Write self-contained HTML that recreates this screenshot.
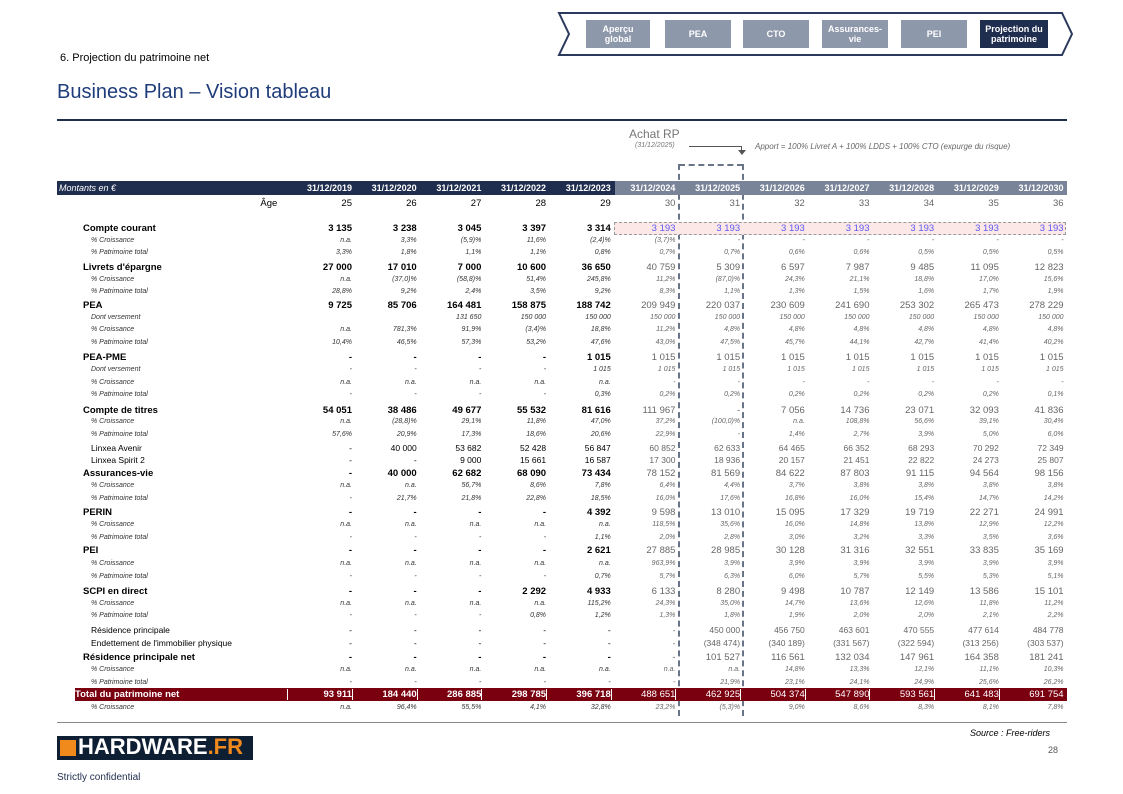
<!DOCTYPE html>
<html><head><meta charset="utf-8"><style>
*{margin:0;padding:0;box-sizing:border-box}
body{width:1123px;height:794px;background:#fff;position:relative;overflow:hidden;font-family:"Liberation Sans",Arial,sans-serif;color:#000}
.a{position:absolute}
.nav{position:absolute;top:20px;height:28px;background:#8e98ab;color:#fff;font-size:9px;font-weight:bold;text-align:center;display:flex;align-items:center;justify-content:center;line-height:10px}
.r{position:absolute;left:57px;width:1010px;height:12px;display:flex;align-items:center;white-space:nowrap}
.r span{display:block}
.r span:first-child{width:230.3px}
.r span+span{width:64.7px;text-align:right}
.r span:nth-child(n+7){color:#666}
.b{font-size:9.5px;font-weight:bold}
.b span:first-child{padding-left:26px}
.b span:nth-child(n+7){font-weight:normal}
.i{font-size:7px;font-style:italic;color:#333}
.i span:first-child{padding-left:34px}
.s{font-size:8.5px}
.s span:first-child{padding-left:34px}
.vd{position:absolute;width:0;border-left:2px dashed #6a7488}
</style></head><body>
<!-- nav -->
<svg class="a" style="left:556px;top:10px" width="520" height="48"><polygon points="3,3 506,3 516,24 506,45 3,45 13,24" fill="#fff" stroke="#2b3a5c" stroke-width="2"/></svg>
<div class="nav" style="left:586px;width:64px">Aperçu<br>global</div>
<div class="nav" style="left:665px;width:66px">PEA</div>
<div class="nav" style="left:743px;width:66px">CTO</div>
<div class="nav" style="left:822px;width:66px">Assurances-<br>vie</div>
<div class="nav" style="left:901px;width:66px">PEI</div>
<div class="nav" style="left:980px;width:68px;background:#1f2d4e">Projection du<br>patrimoine</div>

<div class="a" style="left:60px;top:52px;font-size:11px">6. Projection du patrimoine net</div>
<div class="a" style="left:57px;top:81px;font-size:20px;color:#1f3d7a">Business Plan – Vision tableau</div>
<div class="a" style="left:57px;top:119px;width:1010px;height:2px;background:#1f2d4e"></div>

<div class="a" style="left:629px;top:127px;font-size:12px;color:#777">Achat RP</div>
<div class="a" style="left:635px;top:142px;font-size:7px;font-style:italic;color:#777">(31/12/2025)</div>
<div class="a" style="left:689px;top:146px;width:53px;height:1px;background:#555"></div>
<div class="a" style="left:741px;top:146px;width:1px;height:6px;background:#555"></div>
<div class="a" style="left:738px;top:150px;width:0;height:0;border-left:4px solid transparent;border-right:4px solid transparent;border-top:5px solid #555"></div>
<div class="a" style="left:755px;top:142px;font-size:8px;font-style:italic;color:#666">Apport = 100% Livret A + 100% LDDS + 100% CTO (expurge du risque)</div>
<div class="a" style="left:679px;top:164px;width:64px;border-top:2px dashed #6a7488"></div>
<div class="vd" style="left:678px;top:164px;height:552px"></div>
<div class="vd" style="left:742px;top:164px;height:552px"></div>

<!-- header -->
<div class="a" style="left:57px;top:181px;width:558px;height:14px;background:#1f2d4e"></div>
<div class="a" style="left:615px;top:181px;width:452px;height:14px;background:#7a8499"></div>
<div class="r" style="top:182px;color:#fff;font-size:9px;font-weight:bold"><span style="font-style:italic;font-weight:normal;padding-left:2px">Montants en €</span><span>31/12/2019</span><span>31/12/2020</span><span>31/12/2021</span><span>31/12/2022</span><span>31/12/2023</span><span style="color:#fff">31/12/2024</span><span style="color:#fff">31/12/2025</span><span style="color:#fff">31/12/2026</span><span style="color:#fff">31/12/2027</span><span style="color:#fff">31/12/2028</span><span style="color:#fff">31/12/2029</span><span style="color:#fff">31/12/2030</span></div>
<div class="r" style="top:197px;font-size:9.5px"><span style="text-align:right;padding-right:10px">Âge</span><span>25</span><span>26</span><span>27</span><span>28</span><span>29</span><span>30</span><span>31</span><span>32</span><span>33</span><span>34</span><span>35</span><span>36</span></div>

<div class="a" style="left:614px;top:222px;width:452px;height:13px;background:#fde8e8;border:1px dashed #999"></div>
<div class="r b" style="top:222px"><span>Compte courant</span><span>3 135</span><span>3 238</span><span>3 045</span><span>3 397</span><span>3 314</span><span style="color:#5a5af0">3 193</span><span style="color:#5a5af0">3 193</span><span style="color:#5a5af0">3 193</span><span style="color:#5a5af0">3 193</span><span style="color:#5a5af0">3 193</span><span style="color:#5a5af0">3 193</span><span style="color:#5a5af0">3 193</span></div>
<div class="r i" style="top:234px"><span>% Croissance</span><span>n.a.</span><span>3,3%</span><span>(5,9)%</span><span>11,6%</span><span>(2,4)%</span><span>(3,7)%</span><span>-</span><span>-</span><span>-</span><span>-</span><span>-</span><span>-</span></div>
<div class="r i" style="top:246px"><span>% Patrimoine total</span><span>3,3%</span><span>1,8%</span><span>1,1%</span><span>1,1%</span><span>0,8%</span><span>0,7%</span><span>0,7%</span><span>0,6%</span><span>0,6%</span><span>0,5%</span><span>0,5%</span><span>0,5%</span></div>

<div class="r b" style="top:261px"><span>Livrets d'épargne</span><span>27 000</span><span>17 010</span><span>7 000</span><span>10 600</span><span>36 650</span><span>40 759</span><span>5 309</span><span>6 597</span><span>7 987</span><span>9 485</span><span>11 095</span><span>12 823</span></div>
<div class="r i" style="top:273px"><span>% Croissance</span><span>n.a.</span><span>(37,0)%</span><span>(58,8)%</span><span>51,4%</span><span>245,8%</span><span>11,2%</span><span>(87,0)%</span><span>24,3%</span><span>21,1%</span><span>18,8%</span><span>17,0%</span><span>15,6%</span></div>
<div class="r i" style="top:285px"><span>% Patrimoine total</span><span>28,8%</span><span>9,2%</span><span>2,4%</span><span>3,5%</span><span>9,2%</span><span>8,3%</span><span>1,1%</span><span>1,3%</span><span>1,5%</span><span>1,6%</span><span>1,7%</span><span>1,9%</span></div>

<div class="r b" style="top:299px"><span>PEA</span><span>9 725</span><span>85 706</span><span>164 481</span><span>158 875</span><span>188 742</span><span>209 949</span><span>220 037</span><span>230 609</span><span>241 690</span><span>253 302</span><span>265 473</span><span>278 229</span></div>
<div class="r i" style="top:311px"><span>Dont versement</span><span></span><span></span><span>131 650</span><span>150 000</span><span>150 000</span><span>150 000</span><span>150 000</span><span>150 000</span><span>150 000</span><span>150 000</span><span>150 000</span><span>150 000</span></div>
<div class="r i" style="top:323px"><span>% Croissance</span><span>n.a.</span><span>781,3%</span><span>91,9%</span><span>(3,4)%</span><span>18,8%</span><span>11,2%</span><span>4,8%</span><span>4,8%</span><span>4,8%</span><span>4,8%</span><span>4,8%</span><span>4,8%</span></div>
<div class="r i" style="top:336px"><span>% Patrimoine total</span><span>10,4%</span><span>46,5%</span><span>57,3%</span><span>53,2%</span><span>47,6%</span><span>43,0%</span><span>47,5%</span><span>45,7%</span><span>44,1%</span><span>42,7%</span><span>41,4%</span><span>40,2%</span></div>

<div class="r b" style="top:351px"><span>PEA-PME</span><span>-</span><span>-</span><span>-</span><span>-</span><span>1 015</span><span>1 015</span><span>1 015</span><span>1 015</span><span>1 015</span><span>1 015</span><span>1 015</span><span>1 015</span></div>
<div class="r i" style="top:363px"><span>Dont versement</span><span>-</span><span>-</span><span>-</span><span>-</span><span>1 015</span><span>1 015</span><span>1 015</span><span>1 015</span><span>1 015</span><span>1 015</span><span>1 015</span><span>1 015</span></div>
<div class="r i" style="top:376px"><span>% Croissance</span><span>n.a.</span><span>n.a.</span><span>n.a.</span><span>n.a.</span><span>n.a.</span><span>-</span><span>-</span><span>-</span><span>-</span><span>-</span><span>-</span><span>-</span></div>
<div class="r i" style="top:388px"><span>% Patrimoine total</span><span>-</span><span>-</span><span>-</span><span>-</span><span>0,3%</span><span>0,2%</span><span>0,2%</span><span>0,2%</span><span>0,2%</span><span>0,2%</span><span>0,2%</span><span>0,1%</span></div>

<div class="r b" style="top:404px"><span>Compte de titres</span><span>54 051</span><span>38 486</span><span>49 677</span><span>55 532</span><span>81 616</span><span>111 967</span><span>-</span><span>7 056</span><span>14 736</span><span>23 071</span><span>32 093</span><span>41 836</span></div>
<div class="r i" style="top:415px"><span>% Croissance</span><span>n.a.</span><span>(28,8)%</span><span>29,1%</span><span>11,8%</span><span>47,0%</span><span>37,2%</span><span>(100,0)%</span><span>n.a.</span><span>108,8%</span><span>56,6%</span><span>39,1%</span><span>30,4%</span></div>
<div class="r i" style="top:428px"><span>% Patrimoine total</span><span>57,6%</span><span>20,9%</span><span>17,3%</span><span>18,6%</span><span>20,6%</span><span>22,9%</span><span>-</span><span>1,4%</span><span>2,7%</span><span>3,9%</span><span>5,0%</span><span>6,0%</span></div>
<div class="r s" style="top:442px"><span>Linxea Avenir</span><span>-</span><span>40 000</span><span>53 682</span><span>52 428</span><span>56 847</span><span>60 852</span><span>62 633</span><span>64 465</span><span>66 352</span><span>68 293</span><span>70 292</span><span>72 349</span></div>
<div class="r s" style="top:454px"><span>Linxea Spirit 2</span><span>-</span><span>-</span><span>9 000</span><span>15 661</span><span>16 587</span><span>17 300</span><span>18 936</span><span>20 157</span><span>21 451</span><span>22 822</span><span>24 273</span><span>25 807</span></div>
<div class="r b" style="top:467px"><span>Assurances-vie</span><span>-</span><span>40 000</span><span>62 682</span><span>68 090</span><span>73 434</span><span>78 152</span><span>81 569</span><span>84 622</span><span>87 803</span><span>91 115</span><span>94 564</span><span>98 156</span></div>
<div class="r i" style="top:479px"><span>% Croissance</span><span>n.a.</span><span>n.a.</span><span>56,7%</span><span>8,6%</span><span>7,8%</span><span>6,4%</span><span>4,4%</span><span>3,7%</span><span>3,8%</span><span>3,8%</span><span>3,8%</span><span>3,8%</span></div>
<div class="r i" style="top:492px"><span>% Patrimoine total</span><span>-</span><span>21,7%</span><span>21,8%</span><span>22,8%</span><span>18,5%</span><span>16,0%</span><span>17,6%</span><span>16,8%</span><span>16,0%</span><span>15,4%</span><span>14,7%</span><span>14,2%</span></div>

<div class="r b" style="top:506px"><span>PERIN</span><span>-</span><span>-</span><span>-</span><span>-</span><span>4 392</span><span>9 598</span><span>13 010</span><span>15 095</span><span>17 329</span><span>19 719</span><span>22 271</span><span>24 991</span></div>
<div class="r i" style="top:518px"><span>% Croissance</span><span>n.a.</span><span>n.a.</span><span>n.a.</span><span>n.a.</span><span>n.a.</span><span>118,5%</span><span>35,6%</span><span>16,0%</span><span>14,8%</span><span>13,8%</span><span>12,9%</span><span>12,2%</span></div>
<div class="r i" style="top:531px"><span>% Patrimoine total</span><span>-</span><span>-</span><span>-</span><span>-</span><span>1,1%</span><span>2,0%</span><span>2,8%</span><span>3,0%</span><span>3,2%</span><span>3,3%</span><span>3,5%</span><span>3,6%</span></div>

<div class="r b" style="top:544px"><span>PEI</span><span>-</span><span>-</span><span>-</span><span>-</span><span>2 621</span><span>27 885</span><span>28 985</span><span>30 128</span><span>31 316</span><span>32 551</span><span>33 835</span><span>35 169</span></div>
<div class="r i" style="top:557px"><span>% Croissance</span><span>n.a.</span><span>n.a.</span><span>n.a.</span><span>n.a.</span><span>n.a.</span><span>963,9%</span><span>3,9%</span><span>3,9%</span><span>3,9%</span><span>3,9%</span><span>3,9%</span><span>3,9%</span></div>
<div class="r i" style="top:570px"><span>% Patrimoine total</span><span>-</span><span>-</span><span>-</span><span>-</span><span>0,7%</span><span>5,7%</span><span>6,3%</span><span>6,0%</span><span>5,7%</span><span>5,5%</span><span>5,3%</span><span>5,1%</span></div>

<div class="r b" style="top:585px"><span>SCPI en direct</span><span>-</span><span>-</span><span>-</span><span>2 292</span><span>4 933</span><span>6 133</span><span>8 280</span><span>9 498</span><span>10 787</span><span>12 149</span><span>13 586</span><span>15 101</span></div>
<div class="r i" style="top:597px"><span>% Croissance</span><span>n.a.</span><span>n.a.</span><span>n.a.</span><span>n.a.</span><span>115,2%</span><span>24,3%</span><span>35,0%</span><span>14,7%</span><span>13,6%</span><span>12,6%</span><span>11,8%</span><span>11,2%</span></div>
<div class="r i" style="top:609px"><span>% Patrimoine total</span><span>-</span><span>-</span><span>-</span><span>0,8%</span><span>1,2%</span><span>1,3%</span><span>1,8%</span><span>1,9%</span><span>2,0%</span><span>2,0%</span><span>2,1%</span><span>2,2%</span></div>
<div class="r s" style="top:624px"><span>Résidence principale</span><span>-</span><span>-</span><span>-</span><span>-</span><span>-</span><span>-</span><span>450 000</span><span>456 750</span><span>463 601</span><span>470 555</span><span>477 614</span><span>484 778</span></div>
<div class="r s" style="top:637px"><span>Endettement de l'immobilier physique</span><span>-</span><span>-</span><span>-</span><span>-</span><span>-</span><span>-</span><span>(348 474)</span><span>(340 189)</span><span>(331 567)</span><span>(322 594)</span><span>(313 256)</span><span>(303 537)</span></div>
<div class="r b" style="top:651px"><span>Résidence principale net</span><span>-</span><span>-</span><span>-</span><span>-</span><span>-</span><span>-</span><span>101 527</span><span>116 561</span><span>132 034</span><span>147 961</span><span>164 358</span><span>181 241</span></div>
<div class="r i" style="top:663px"><span>% Croissance</span><span>n.a.</span><span>n.a.</span><span>n.a.</span><span>n.a.</span><span>n.a.</span><span>n.a.</span><span>n.a.</span><span>14,8%</span><span>13,3%</span><span>12,1%</span><span>11,1%</span><span>10,3%</span></div>
<div class="r i" style="top:676px"><span>% Patrimoine total</span><span>-</span><span>-</span><span>-</span><span>-</span><span>-</span><span>-</span><span>21,9%</span><span>23,1%</span><span>24,1%</span><span>24,9%</span><span>25,6%</span><span>26,2%</span></div>

<div class="a" style="left:75px;top:688px;width:992px;height:13px;background:#7a0010"></div>
<div class="r b" style="top:688px;height:13px;color:#fff"><span style="padding-left:18px">Total du patrimoine net</span><span style="border-left:1px solid #fff">93 911</span><span style="border-left:1px solid #fff">184 440</span><span style="border-left:1px solid #fff">286 885</span><span style="border-left:1px solid #fff">298 785</span><span style="border-left:1px solid #fff">396 718</span><span style="border-left:1px solid #fff;color:#fff">488 651</span><span style="border-left:1px solid #fff;color:#fff">462 925</span><span style="border-left:1px solid #fff;color:#fff">504 374</span><span style="border-left:1px solid #fff;color:#fff">547 890</span><span style="border-left:1px solid #fff;color:#fff">593 561</span><span style="border-left:1px solid #fff;color:#fff">641 483</span><span style="border-left:1px solid #fff;color:#fff">691 754</span></div>
<div class="r i" style="top:701px"><span>% Croissance</span><span>n.a.</span><span>96,4%</span><span>55,5%</span><span>4,1%</span><span>32,8%</span><span>23,2%</span><span>(5,3)%</span><span>9,0%</span><span>8,6%</span><span>8,3%</span><span>8,1%</span><span>7,8%</span></div>

<div class="a" style="left:57px;top:722px;width:1010px;height:1px;background:#888"></div>
<div class="a" style="left:970px;top:728px;font-size:9px;font-style:italic">Source : Free-riders</div>
<div class="a" style="left:1048px;top:745px;font-size:9px;color:#555">28</div>
<div class="a" style="left:57px;top:736px;width:196px;height:24px;background:#0f1f33"></div>
<div class="a" style="left:60px;top:740px;width:16px;height:16px;background:#f08a1c"></div>
<div class="a" style="left:78px;top:734px;font-size:22px;font-weight:bold;color:#fff;letter-spacing:0px">HARDWARE<span style="color:#f08a1c">.FR</span></div>
<div class="a" style="left:57px;top:772px;font-size:10px;color:#1f2d4e">Strictly confidential</div>
</body></html>
